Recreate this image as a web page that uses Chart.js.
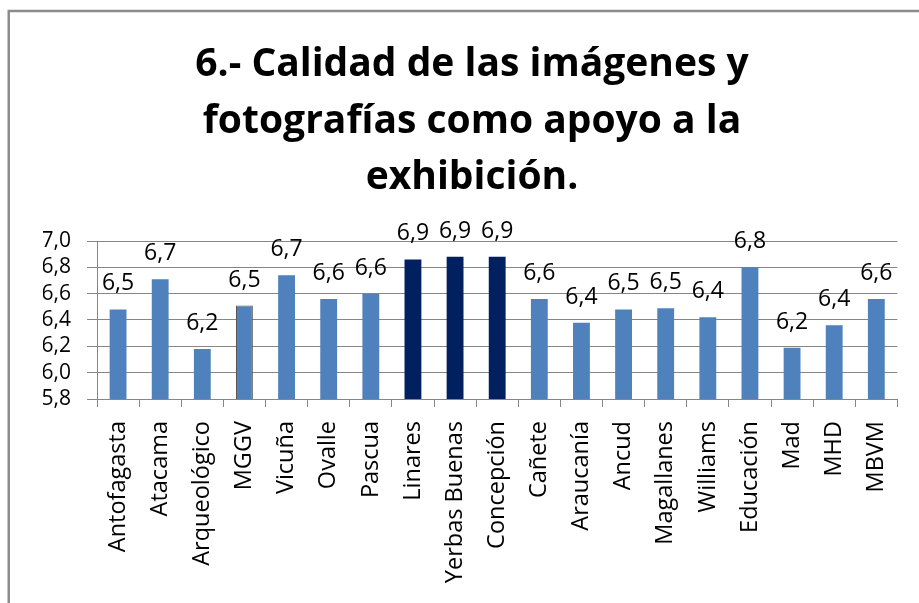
<!DOCTYPE html>
<html>
<head>
<meta charset="utf-8">
<script src="https://cdn.jsdelivr.net/npm/chart.js@4/dist/chart.umd.min.js"></script>
<style>
  html, body { margin: 0; padding: 0; background: #ffffff; }
  #wrap { position: relative; width: 919px; height: 603px; }
</style>
</head>
<body>
<div id="wrap"><canvas id="c" width="919" height="603"></canvas></div>
<script>
// ---- data ----
const titleLines = ['6.- Calidad de las imágenes y', 'fotografías como apoyo a la', 'exhibición.'];
const categories = ['Antofagasta', 'Atacama', 'Arqueológico', 'MGGV', 'Vicuña', 'Ovalle', 'Pascua', 'Linares',
  'Yerbas Buenas', 'Concepción', 'Cañete', 'Araucanía', 'Ancud', 'Magallanes', 'Williams', 'Educación', 'Mad', 'MHD', 'MBVM'];
const values = [6.48, 6.71, 6.18, 6.51, 6.74, 6.56, 6.60, 6.86, 6.88, 6.88, 6.56, 6.38, 6.48, 6.49, 6.42, 6.80, 6.19, 6.36, 6.56];
const highlighted = ['Linares', 'Yerbas Buenas', 'Concepción'];
const outlined = ['MGGV'];
const yTicks = [5.8, 6.0, 6.2, 6.4, 6.6, 6.8, 7.0];

// ---- styles ----
const LIGHT = '#4F81BD';
const DARK = '#002060';
const GRID = '#868686';
const FONT = "'Open Sans', sans-serif";
const fmt = v => v.toFixed(1).replace('.', ',');

const barColors = categories.map(c => highlighted.includes(c) ? DARK : LIGHT);
const borderColors = categories.map(c => outlined.includes(c) ? '#555555' : 'rgba(0,0,0,0)');
const borderWidths = categories.map(c => outlined.includes(c) ? 1 : 0);

const framePlugin = {
  id: 'frame',
  beforeDraw(chart) {
    const ctx = chart.ctx;
    ctx.save();
    ctx.fillStyle = '#ffffff';
    ctx.fillRect(0, 0, chart.width, chart.height);
    ctx.strokeStyle = '#8c8c8c';
    ctx.lineWidth = 2.5;
    ctx.beginPath();
    ctx.moveTo(8.75, chart.height);
    ctx.lineTo(8.75, 11);
    ctx.lineTo(chart.width, 11);
    ctx.stroke();
    ctx.restore();
  }
};

const labelPlugin = {
  id: 'valueLabels',
  afterDatasetsDraw(chart) {
    const ctx = chart.ctx;
    const meta = chart.getDatasetMeta(0);
    ctx.save();
    ctx.font = '23px ' + FONT;
    ctx.fillStyle = '#000000';
    ctx.textAlign = 'center';
    ctx.textBaseline = 'alphabetic';
    meta.data.forEach((bar, i) => {
      ctx.fillText(fmt(values[i]), bar.x, bar.y - 19);
    });
    ctx.restore();
  }
};

new Chart(document.getElementById('c'), {
  type: 'bar',
  data: {
    labels: categories,
    datasets: [{
      data: values,
      backgroundColor: barColors,
      borderColor: borderColors,
      borderWidth: borderWidths,
      barPercentage: 0.4,
      categoryPercentage: 1.0
    }]
  },
  options: {
    responsive: false,
    animation: false,
    devicePixelRatio: 1,
    layout: { padding: { left: 43, right: 18, top: 0, bottom: 0 } },
    plugins: {
      legend: { display: false },
      tooltip: { enabled: false },
      title: {
        display: true,
        text: titleLines,
        color: '#000000',
        font: { family: FONT, size: 39, weight: 'bold', lineHeight: 56.5 / 39 },
        padding: { top: 37, bottom: 34.5 }
      }
    },
    scales: {
      x: {
        offset: true,
        grid: { display: true, drawOnChartArea: false, drawTicks: true, tickLength: 8, color: GRID, offset: true },
        border: { display: true, color: GRID, width: 1 },
        ticks: {
          color: '#000000', font: { family: FONT, size: 23.5 },
          minRotation: 90, maxRotation: 90, autoSkip: false, padding: 14
        },
        afterFit(scale) { scale.height = 204; }
      },
      y: {
        min: yTicks[0],
        max: yTicks[yTicks.length - 1],
        grid: { color: GRID, tickLength: 10, drawTicks: true },
        border: { display: true, color: GRID, width: 1 },
        afterBuildTicks(scale) { scale.ticks = yTicks.map(v => ({ value: v })); },
        ticks: {
          color: '#000000', font: { family: FONT, size: 21 }, padding: 16, autoSkip: false,
          callback: v => fmt(v)
        },
        afterFit(scale) { scale.width = 54; }
      }
    }
  },
  plugins: [framePlugin, labelPlugin]
});
</script>
</body>
</html>
